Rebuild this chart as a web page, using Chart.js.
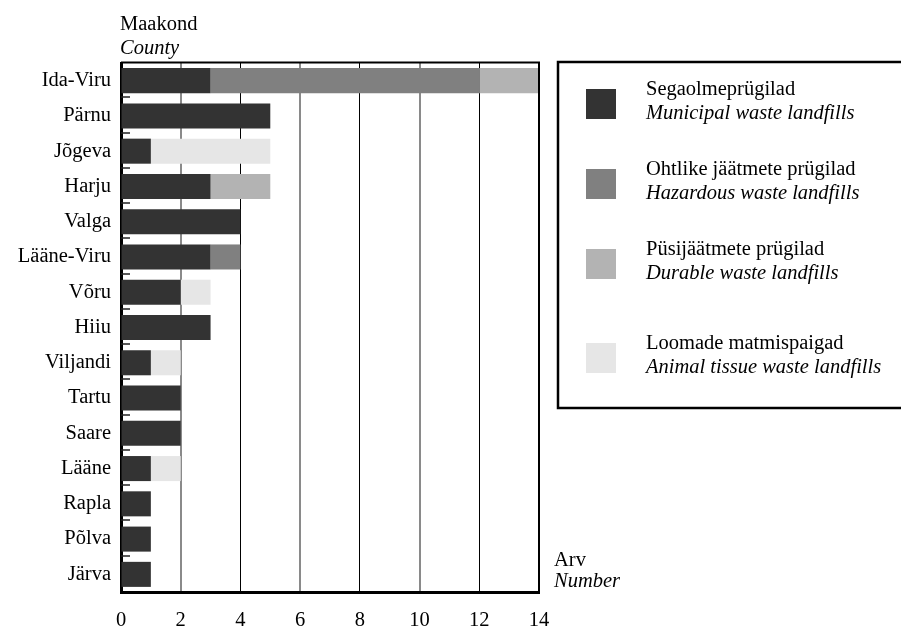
<!DOCTYPE html>
<html lang="et">
<head>
    <meta charset="UTF-8">
    <title>Prügilad maakonniti</title>
    <script src="https://cdn.jsdelivr.net/npm/chart.js"></script>
    <style>
        html, body {
            margin: 0;
            padding: 0;
            background: #fff;
        }
        #wrap {
            width: 901px;
            height: 630px;
        }
    </style>
</head>
<body>

<div id="wrap"><canvas id="landfillChart" width="901" height="630"></canvas></div>

<script>
    // Maakonnad
    const counties = ['Ida-Viru', 'Pärnu', 'Jõgeva', 'Harju', 'Valga', 'Lääne-Viru', 'Võru', 'Hiiu',
        'Viljandi', 'Tartu', 'Saare', 'Lääne', 'Rapla', 'Põlva', 'Järva'];

    // Prügilate arv liikide kaupa
    const municipal = [3, 5, 1, 3, 4, 3, 2, 3, 1, 2, 2, 1, 1, 1, 1];
    const hazardous = [9, 0, 0, 0, 0, 1, 0, 0, 0, 0, 0, 0, 0, 0, 0];
    const durable   = [2, 0, 0, 2, 0, 0, 0, 0, 0, 0, 0, 0, 0, 0, 0];
    const animal    = [0, 0, 4, 0, 0, 0, 1, 0, 1, 0, 0, 1, 0, 0, 0];

    // Legendi tekstid (eesti / inglise)
    const seriesEt = ['Segaolmeprügilad', 'Ohtlike jäätmete prügilad', 'Püsijäätmete prügilad', 'Loomade matmispaigad'];
    const seriesEn = ['Municipal waste landfills', 'Hazardous waste landfills', 'Durable waste landfills', 'Animal tissue waste landfills'];
    const seriesColors = ['#333333', '#808080', '#b3b3b3', '#e6e6e6'];

    const xMax = 14;
    const xStep = 2;

    const FONT = '"Liberation Serif", "Times New Roman", serif';
    const FSIZE = 20.5;

    const seriesValues = [municipal, hazardous, durable, animal];

    // joonistab raami, telgede pealkirjad, y-telje kriipsud ja legendi
    const decorations = {
        id: 'decorations',
        afterDraw(chart) {
            const ctx = chart.ctx;
            const area = chart.chartArea;
            const y = chart.scales.y;
            ctx.save();

            // ülemine ja parem raam
            ctx.strokeStyle = '#000';
            ctx.lineWidth = 2;
            ctx.beginPath();
            ctx.moveTo(area.left, area.top - 0.5);
            ctx.lineTo(area.right, area.top - 0.5);
            ctx.lineTo(area.right, area.bottom);
            ctx.stroke();

            // väikesed kriipsud kategooriate vahel
            ctx.strokeStyle = '#222';
            ctx.lineWidth = 1.5;
            for (let i = 0; i < counties.length - 1; i++) {
                const yy = Math.round((y.getPixelForValue(i) + y.getPixelForValue(i + 1)) / 2) - 1;
                ctx.beginPath();
                ctx.moveTo(area.left, yy);
                ctx.lineTo(area.left + 9, yy);
                ctx.stroke();
            }

            // telgede pealkirjad
            ctx.fillStyle = '#000';
            ctx.textAlign = 'left';
            ctx.textBaseline = 'alphabetic';
            ctx.font = FSIZE + 'px ' + FONT;
            ctx.fillText('Maakond', 120, 30);
            ctx.fillText('Arv', 554, 566);
            ctx.font = 'italic ' + FSIZE + 'px ' + FONT;
            ctx.fillText('County', 120, 54);
            ctx.fillText('Number', 554, 587);

            // legend
            ctx.strokeStyle = '#000';
            ctx.lineWidth = 2.5;
            ctx.strokeRect(558, 62, 360, 346);
            const tops = [89, 169, 249, 343];
            chart.data.datasets.forEach((ds, i) => {
                ctx.fillStyle = ds.backgroundColor;
                ctx.fillRect(586, tops[i], 30, 30);
                ctx.fillStyle = '#000';
                ctx.font = FSIZE + 'px ' + FONT;
                ctx.fillText(seriesEt[i], 646, tops[i] + 6);
                ctx.font = 'italic ' + FSIZE + 'px ' + FONT;
                ctx.fillText(seriesEn[i], 646, tops[i] + 30);
            });

            ctx.restore();
        }
    };

    const data = {
        labels: counties,
        datasets: seriesValues.map((vals, i) => ({
            label: seriesEt[i],
            data: vals,
            backgroundColor: seriesColors[i],
            borderWidth: 0,
            barPercentage: 0.71,
            categoryPercentage: 1.0
        }))
    };

    const config = {
        type: 'bar',
        data: data,
        options: {
            indexAxis: 'y',
            responsive: false,
            animation: false,
            events: [],
            layout: {
                padding: { top: 63, left: 0, right: 362, bottom: 0 }
            },
            scales: {
                x: {
                    stacked: true,
                    min: 0,
                    max: xMax,
                    ticks: {
                        stepSize: xStep,
                        padding: 16,
                        color: '#000',
                        font: { family: FONT, size: FSIZE }
                    },
                    grid: {
                        drawTicks: false,
                        color: c => (c.tick && c.tick.value % 4 === 2) ? '#8a8a8a' : '#000',
                        lineWidth: c => (c.tick && c.tick.value % 4 === 2) ? 2 : 1
                    },
                    border: { display: true, color: '#000', width: 3 },
                    afterFit: scale => { scale.height = 38; }
                },
                y: {
                    stacked: true,
                    ticks: {
                        padding: 10,
                        color: '#000',
                        font: { family: FONT, size: FSIZE }
                    },
                    grid: {
                        drawOnChartArea: false,
                        drawTicks: false
                    },
                    border: { display: true, color: '#000', width: 3 },
                    afterFit: scale => { scale.width = 121; }
                }
            },
            plugins: {
                legend: { display: false },
                tooltip: { enabled: false }
            }
        },
        plugins: [decorations]
    };

    new Chart(document.getElementById('landfillChart').getContext('2d'), config);
</script>

</body>
</html>
